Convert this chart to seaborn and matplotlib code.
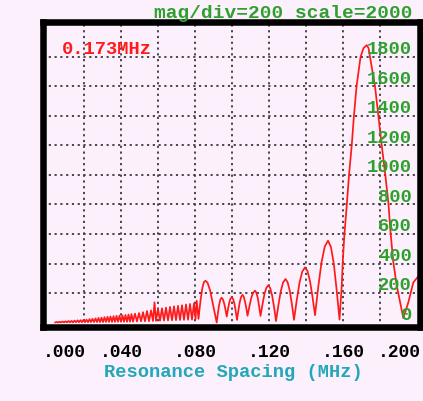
import matplotlib
matplotlib.use("Agg")
import matplotlib.pyplot as plt
import matplotlib.transforms as mtransforms
import pandas as pd
import seaborn as sns

# ---- data (MHz, magnitude) ----
# dense low-level ripple, left part (reads as a solid band)
band_freq = [0.00432, 0.00514, 0.00595, 0.00676, 0.00757, 0.00838, 0.00919, 0.01000,
             0.01081, 0.01162, 0.01243, 0.01324, 0.01405, 0.01486, 0.01568, 0.01649,
             0.01730, 0.01811, 0.01892, 0.01973, 0.02054, 0.02135, 0.02216, 0.02297,
             0.02378, 0.02459, 0.02541, 0.02622, 0.02703, 0.02784, 0.02865, 0.02946,
             0.03027, 0.03108, 0.03189, 0.03270, 0.03351, 0.03432, 0.03514, 0.03595,
             0.03676, 0.03757, 0.03838, 0.03919, 0.04000, 0.04081, 0.04162, 0.04243,
             0.04324, 0.04405, 0.04486, 0.04568, 0.04649]
band_mag = [0, 4, 0, 5, 1, 7, 1, 8, 1, 10, 1, 11, 1, 13, 2, 15, 2, 16, 2, 18, 2, 20,
            2, 23, 3, 25, 3, 28, 3, 31, 3, 33, 3, 36, 4, 39, 4, 41, 4, 43, 4, 45, 5,
            47, 5, 49, 5, 51, 5, 54, 6, 57, 6]

# ripple, right part (individual wiggles visible)
ripple_freq = [0.04757, 0.04865, 0.04973, 0.05081, 0.05189, 0.05297, 0.05405, 0.05514,
               0.05622, 0.05730, 0.05811, 0.05892, 0.06000, 0.06108, 0.06216, 0.06324,
               0.06432, 0.06541, 0.06649, 0.06757, 0.06865, 0.06973, 0.07081, 0.07189,
               0.07297, 0.07405, 0.07514, 0.07622, 0.07730, 0.07838, 0.07946, 0.08027,
               0.08092, 0.08189]
ripple_mag = [60, 7, 64, 8, 70, 8, 78, 9, 82, 10, 137, 11, 92, 12, 96, 13,
              101, 14, 106, 15, 110, 16, 113, 17, 117, 18, 122, 19, 126, 20, 130, 22,
              148, 25]

# side lobes
lobe_freq = [0.08297, 0.08405, 0.08486, 0.08568, 0.08676, 0.08811, 0.08973, 0.09173,
             0.09238, 0.09303, 0.09368, 0.09432, 0.09503, 0.09573, 0.09643, 0.09714,
             0.09781, 0.09849, 0.09916, 0.09984, 0.10054, 0.10127, 0.10200, 0.10270,
             0.10346, 0.10419, 0.10492, 0.10568, 0.10635, 0.10703, 0.10770, 0.10838,
             0.10941, 0.11041, 0.11141, 0.11243, 0.11319, 0.11392, 0.11465, 0.11541,
             0.11649, 0.11751, 0.11857, 0.11962, 0.12065, 0.12170, 0.12276, 0.12378,
             0.12508, 0.12635, 0.12762, 0.12892, 0.13005, 0.13122, 0.13238, 0.13351,
             0.13500, 0.13649, 0.13797, 0.13946, 0.14081, 0.14216, 0.14351, 0.14486,
             0.14662, 0.14838, 0.15014, 0.15189, 0.15346, 0.15500, 0.15654, 0.15811]
lobe_mag = [150, 240, 275, 283, 270, 220, 120, 0,
            64, 119, 155, 168, 158, 131, 90, 40,
            90, 134, 162, 172, 161, 130, 76, 18,
            83, 139, 174, 188, 175, 141, 99, 46,
            110, 167, 202, 216, 202, 166, 110, 45,
            124, 192, 236, 252, 233, 182, 102, 10,
            118, 212, 272, 295, 273, 215, 123, 18,
            153, 271, 345, 374, 348, 280, 173, 50,
            242, 409, 515, 555, 512, 400, 223, 20]

# main resonance peak
main_freq = [0.15930, 0.15984, 0.16070, 0.16200, 0.16324, 0.16470, 0.16589, 0.16730,
             0.16946, 0.17108, 0.17281, 0.17378, 0.17459, 0.17730, 0.17908, 0.18092,
             0.18286, 0.18449, 0.18568, 0.18719, 0.18903, 0.19081, 0.19259, 0.19530,
             0.19800, 0.20081]
main_mag = [250, 410, 589, 792, 1000, 1200, 1400, 1600,
            1800, 1860, 1880, 1860, 1800, 1600, 1400, 1200,
            1000, 815, 611, 408, 250, 139, 30, 137,
            272, 315]

x_ticks = [0.0, 0.04, 0.08, 0.12, 0.16, 0.20]
x_tick_labels = [".000", ".040", ".080", ".120", ".160", ".200"]
x_grid = [0.02, 0.04, 0.06, 0.08, 0.10, 0.12, 0.14, 0.16, 0.18]
y_grid = [200, 400, 600, 800, 1000, 1200, 1400, 1600, 1800]
y_label_values = [0, 200, 400, 600, 800, 1000, 1200, 1400, 1600, 1800]
y_labels = ["0", "200", "400", "600", "800", "1000", "1200", "1400", "1600", "1800"]
title_text = "mag/div=200 scale=2000"
marker_text = "0.173MHz"
x_label = "Resonance Spacing (MHz)"

# ---- style ----
sns.set_style("white")
plt.rcParams["font.family"] = ["Liberation Mono", "DejaVu Sans Mono"]
plt.rcParams["font.weight"] = "bold"

bg = "#fcf0fc"
green = "#2ea02e"
red = "#ff1a1a"
teal = "#22a8b8"

fig = plt.figure(figsize=(4.23, 4.02), dpi=100, facecolor=bg)
ax = fig.add_axes([0.10165, 0.18532, 0.89125, 0.75746])
ax.set_facecolor(bg)

df = pd.DataFrame({"freq": band_freq + ripple_freq + lobe_freq + main_freq,
                   "mag": band_mag + ripple_mag + lobe_mag + main_mag})
sns.lineplot(data=df, x="freq", y="mag", ax=ax, color=red, linewidth=1.25,
             estimator=None, sort=False, zorder=2.2)

ax.set_xlim(-0.00216, 0.2016)
ax.set_ylim(-27, 2037)

for gx in x_grid:
    ax.axvline(gx, color="#3a3a3a", lw=1.3, ls=(0, (1.2, 2.0)), zorder=1)
for gy in y_grid:
    ax.axhline(gy, color="#3a3a3a", lw=1.3, ls=(0, (1.2, 2.0)), zorder=1)

ax.set_xticks(x_ticks)
ax.set_xticklabels(x_tick_labels)
ax.set_yticks([])
ax.tick_params(axis="x", direction="out", length=7.2, width=1.5, color="black",
               pad=5, labelsize=13, labelcolor="black")
ax.set_ylabel("")

# first label starts at the left tick, last label ends near the figure edge
tlabels = ax.get_xticklabels()
tlabels[0].set_ha("left")
tlabels[0].set_transform(tlabels[0].get_transform()
                         + mtransforms.ScaledTranslation(-0.04, 0, fig.dpi_scale_trans))
tlabels[-1].set_ha("right")
tlabels[-1].set_transform(tlabels[-1].get_transform()
                          + mtransforms.ScaledTranslation(0.035, 0, fig.dpi_scale_trans))

for s in ax.spines.values():
    s.set_linewidth(4.7)
    s.set_color("black")
    s.set_zorder(4)

for v, lab in zip(y_label_values, y_labels):
    ax.annotate(lab, xy=(0.979, v), xycoords=ax.get_yaxis_transform(),
                xytext=(0, 6), textcoords="offset points", ha="right", va="center",
                color=green, fontsize=13.5, fontweight="bold", zorder=5)

ax.text(0.0504, 0.9146, marker_text, transform=ax.transAxes, ha="left", va="center",
        color=red, fontsize=13.5, fontweight="bold", zorder=5)

fig.text(412 / 423, 1 - 13 / 402, title_text, ha="right", va="center",
         color=green, fontsize=14, fontweight="bold")

ax.set_xlabel(x_label, color=teal, fontsize=13.5, fontweight="bold", va="center")
ax.xaxis.set_label_coords(0.504, -0.1494)

fig.savefig("out.png", dpi=100, facecolor=bg)
